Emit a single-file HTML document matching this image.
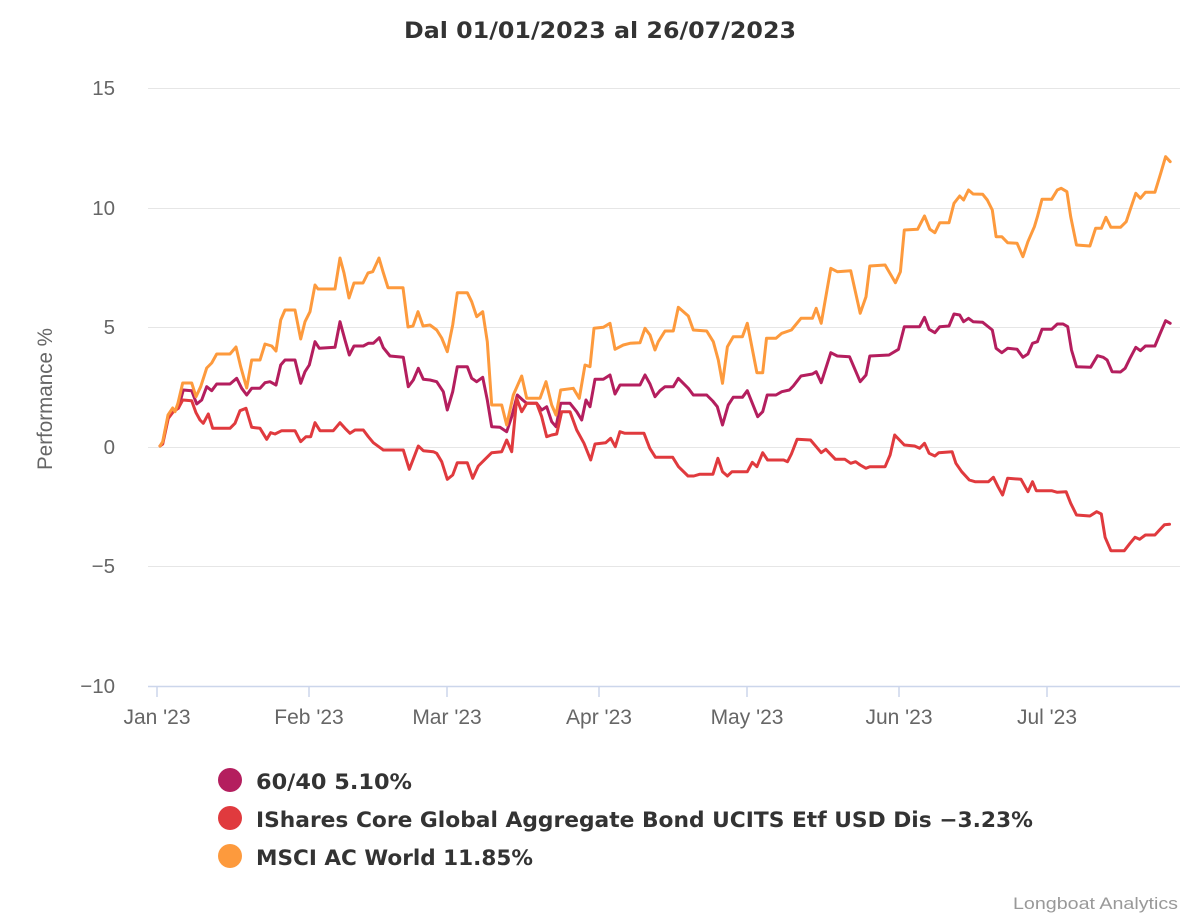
<!DOCTYPE html>
<html><head><meta charset="utf-8"><style>
html,body{margin:0;padding:0;background:#fff;}
svg{display:block;font-family:"Liberation Sans",sans-serif;}
</style></head><body>
<svg width="1200" height="920" viewBox="0 0 1200 920" xmlns="http://www.w3.org/2000/svg">
<rect width="1200" height="920" fill="#fff"/>
<text x="404" y="38" font-size="22" font-weight="bold" fill="#333" font-family="DejaVu Sans, Liberation Sans, sans-serif" textLength="392" lengthAdjust="spacingAndGlyphs">Dal 01/01/2023 al 26/07/2023</text>
<g stroke="#e6e6e6" stroke-width="1">
<line x1="148" y1="88.5" x2="1180" y2="88.5"/>
<line x1="148" y1="208.5" x2="1180" y2="208.5"/>
<line x1="148" y1="327.5" x2="1180" y2="327.5"/>
<line x1="148" y1="447.5" x2="1180" y2="447.5"/>
<line x1="148" y1="566.5" x2="1180" y2="566.5"/>
</g>
<line x1="148" y1="686.5" x2="1180" y2="686.5" stroke="#ccd6eb" stroke-width="1.5"/>
<g stroke="#ccd6eb" stroke-width="1.5">
<line x1="157" y1="686" x2="157" y2="697"/>
<line x1="309" y1="686" x2="309" y2="697"/>
<line x1="447" y1="686" x2="447" y2="697"/>
<line x1="599" y1="686" x2="599" y2="697"/>
<line x1="747" y1="686" x2="747" y2="697"/>
<line x1="899" y1="686" x2="899" y2="697"/>
<line x1="1047" y1="686" x2="1047" y2="697"/>
</g>
<g font-size="20.5" fill="#666" text-anchor="end">
<text x="115" y="95">15</text>
<text x="115" y="215">10</text>
<text x="115" y="334">5</text>
<text x="115" y="454">0</text>
<text x="115" y="573">−5</text>
<text x="115" y="693">−10</text>
</g>
<g font-size="21" fill="#666" text-anchor="middle">
<text x="157" y="724">Jan '23</text>
<text x="309" y="724">Feb '23</text>
<text x="447" y="724">Mar '23</text>
<text x="599" y="724">Apr '23</text>
<text x="747" y="724">May '23</text>
<text x="899" y="724">Jun '23</text>
<text x="1047" y="724">Jul '23</text>
</g>
<text transform="translate(52,470) rotate(-90)" font-size="21" fill="#666" textLength="142" lengthAdjust="spacingAndGlyphs">Performance %</text>
<g fill="none" stroke-width="3" stroke-linejoin="round" stroke-linecap="round">
<polyline stroke="#b41e5e" points="160,446 162.7,443 168,416.7 173.3,410 178.3,408.3 183.3,390 191.7,390.7 196.7,404 201.7,400 206.7,386.7 211.7,390.7 216.7,384 230,384 236.7,378.3 241.7,388.3 246.7,395 251.7,388.3 260,388.3 265,382.7 270,381.7 276,385 280.7,365 285,360 295,360 300.7,383.3 305,371.7 309.3,365 315,341.7 319.3,348.3 335,347.3 340,321.7 345,340 349.3,355 354,346 363.3,346 368.3,343.3 373.3,343.3 379.3,337.7 383.3,347.7 390,356 403.3,357.3 408.3,386.7 413.3,380 418.3,368.3 423.3,379.3 430,380 436.7,381.7 443.3,391.7 447.3,410 452.7,391.7 457.3,366.7 467.3,366.7 471.7,378.3 476.7,381.7 482.7,377.3 487.3,400 491.7,426.7 500,427.3 506.7,431.7 511.7,416.7 517.3,395 522.7,400 526.7,403.3 536.7,403.3 541.7,410 546.7,406.7 551.7,421.7 556,426.7 560.7,403.3 570,403.3 576.7,411.7 581.7,420 586,400 590,406.7 595,379.3 603.3,379.3 610,375 615,394 620,385 640,385 645,375 650,384 655,396.7 660,390.7 665,386.7 673.3,386.7 678.3,378.3 688.3,388.3 693.3,395 706.7,395 712.7,401 717.3,406.7 722.5,425 728.2,405 733.2,397.3 742.4,397.3 747.3,390.7 757.7,416.7 762.7,411.7 767.2,395 776,395 781.8,391.7 789.4,390 793.3,386 801,376 812.4,374 816.2,371.7 821.2,382.7 830.8,352.7 837.3,356 849.5,356.7 860.2,381.7 866,375 869.8,356 889,355 898.5,349.3 904.3,326.7 919.6,326.7 924.5,317.3 929.1,329.3 934.9,332.7 939.8,326.7 949,326 954,314 959.7,315 963.6,321.7 968.5,318.3 973.1,321.7 982.7,322.3 992.3,330 996.1,348.3 1001.8,352.7 1007.6,348.3 1017.1,349.3 1022.9,357.3 1027.9,354 1032.5,343.3 1037.4,341.7 1042,329.3 1051.6,329.3 1057.3,324 1063.1,324 1067.7,326.7 1071.5,350 1076.5,366.7 1090.6,367.3 1097.5,355.7 1103.3,357.3 1107.1,360 1112.1,371.7 1120.5,372 1125.1,368.3 1130,358.3 1135.8,347.3 1140.4,350.7 1145.4,346 1154.9,346 1159.5,335 1165.6,320.7 1170.2,323.3"/>
<polyline stroke="#e03a3e" points="160,446 162.7,444 168.3,418.3 173.3,411.7 178.3,408.3 182.7,400 191.7,400.7 196,412.7 200,420 203.3,423.3 208.3,414 212.7,428.3 230,428.3 235,423.3 240,410.7 246,408.3 251.7,427.3 260,428.3 266.7,439.3 270.7,432.7 275,434 281.7,430.7 295,430.7 300.7,441.7 306,436.7 310.7,436.7 315,422.7 320,430.7 333.3,430.7 340,422.7 345,428.3 350,433.3 355,430 363.3,430 368.3,436.7 373.3,442.7 383.3,450 403.3,450 409.3,469.3 418.3,446 423.3,450.7 433.3,451.7 436.7,453.3 441.7,461.7 447.3,479.3 452.7,475 457.3,462.7 467.3,462.7 472.7,478.3 478.3,466 485,459.3 491.7,452.7 501.7,451.7 506.7,440 511.7,451.7 516.7,398.3 521.7,411.7 526.7,403.3 536.7,403.3 541.7,416.7 546.7,436.7 551.7,435 556.7,434 561.7,411.7 570,411.7 576.7,430 584,443.3 590.7,460 595,444 605.7,442.7 610.7,438.3 615.3,446.7 619.9,431.7 624.9,433.3 644,433.3 649.8,448.3 655.5,457.3 672.7,457.3 678.5,466.7 688,476 693.8,476 699.5,474.3 712.9,474.3 717.9,458.3 722.5,471.7 727.4,476 732,471.7 747.3,471.7 752.3,462.3 756.9,466.7 762.7,452.7 767.6,460 783.7,460 787.5,461.7 791.4,454 797.1,439.3 810.5,440 816.2,446.7 821.2,452.7 825.8,449.3 835.4,459.3 844.9,459.3 850.7,463.3 855.6,461.7 860.2,465 866,468.3 869.8,466.7 885.1,466.7 890.1,455 894.7,435 904.3,445 914.6,446 919.6,448.3 924.5,443.3 929.1,453.3 934.9,456 938.7,452.7 952.1,451.7 955.9,463.3 961.7,471.7 969.3,480 975,481.7 988.4,481.7 993.4,477.3 998,486.7 1002.6,495 1007.6,478.3 1021,479.3 1027.9,491.7 1032.5,481.7 1036.3,490.7 1051.6,490.7 1057.3,492.3 1066.1,491.7 1070.7,503.3 1076.5,515 1089.9,516 1096.7,511.7 1101.3,514 1105.1,537.3 1110.9,550.7 1124.3,550.7 1130,543.3 1135,537.3 1139.6,539.3 1145.4,535 1154.9,535 1159.5,530 1164.5,524.7 1169.5,524.3"/>
<polyline stroke="#fd9a3d" points="160,446 162.7,441.7 168,415 172.7,408 175,411.7 178,403 182.7,383 191.7,383 196,396.7 200.7,386.7 206.7,368 211.7,363 216.7,354 230,354 236,347 240.7,366.7 246.7,388 251.7,360 260,360 265,344 271.7,346 276,351 280.7,320 285,310 295,310 300.7,339 305,321.7 310,311.7 315,285 318,289 335,289 340,258 344,273 349,298 354,283 363,283 368,273 372.7,271.7 379,258 383,271.7 388,287.7 403,287.7 408,327 413,326 418,311.7 423,326 430,325 436.7,330 441.7,338 447.3,351.7 452.7,325 457.3,292.7 467.3,292.7 471.7,301.7 476.7,316.7 482.7,311.7 487.3,341.7 491.7,405 501.7,405 506.7,425 513.3,395 521.7,376 526.7,398.3 540,398.3 546,381.7 551.7,405 556,415 560.7,390 573.3,388.3 579.3,398.3 585,365 590,366.7 594,328.3 603.3,327.3 610,323.3 615,349.3 623.3,345 630,343.3 640,342.7 645,328.3 650,335 655,350 658.3,341.7 665,331 673.3,331 678.3,307.3 688.3,316 693.3,330 706.7,331 713.3,341.7 718.3,360 722.5,383.3 727.4,346.7 733.2,336.7 742.4,336.7 747.3,323.3 756.9,372.7 762.7,372.7 766.5,338.3 776,338.3 781.8,333.3 791.4,330 801,318.3 812.4,318.3 816.2,308.3 821.2,323.3 830.8,268.3 837.3,271.7 850.7,270.7 860.2,313.3 866,296.7 869.8,266 885.1,265 895.4,282.7 900.4,271.7 904.3,230 917.6,229.3 924.5,216 929.9,229.3 934.9,232.7 939.8,222.7 949,222.7 954,203.3 959.7,196 963.6,200 968.5,190 973.1,194 982.7,194.3 987.3,200 992.3,210 996.1,236.7 1001.8,236.7 1007.6,242.7 1017.1,243.3 1022.9,256.7 1027.9,241.7 1034.4,226.7 1037.4,216.7 1042,199.3 1051.6,199.3 1057.3,190 1061.2,188.3 1066.9,191.7 1070.7,216.7 1076.5,245 1089.9,246 1095.6,228.3 1101.3,228.3 1105.9,217.3 1110.9,227.3 1120.5,227.3 1126.2,221.7 1131.2,206.7 1135.8,193.3 1140.4,198.3 1145.4,192.3 1154.9,192.3 1160.7,173.3 1165.6,156.7 1170.2,161.7"/>
</g>
<circle cx="230" cy="780" r="12" fill="#b41e5e"/>
<circle cx="230" cy="818" r="12" fill="#e03a3e"/>
<circle cx="230" cy="856" r="12" fill="#fd9a3d"/>
<g font-size="21" font-weight="bold" fill="#333" font-family="DejaVu Sans, Liberation Sans, sans-serif">
<text x="256" y="789" textLength="156" lengthAdjust="spacingAndGlyphs">60/40 5.10%</text>
<text x="256" y="827" textLength="777" lengthAdjust="spacingAndGlyphs">IShares Core Global Aggregate Bond UCITS Etf USD Dis −3.23%</text>
<text x="256" y="865" textLength="277" lengthAdjust="spacingAndGlyphs">MSCI AC World 11.85%</text>
</g>
<text x="1013" y="909" font-size="17" fill="#999" textLength="165" lengthAdjust="spacingAndGlyphs">Longboat Analytics</text>
</svg>
</body></html>
